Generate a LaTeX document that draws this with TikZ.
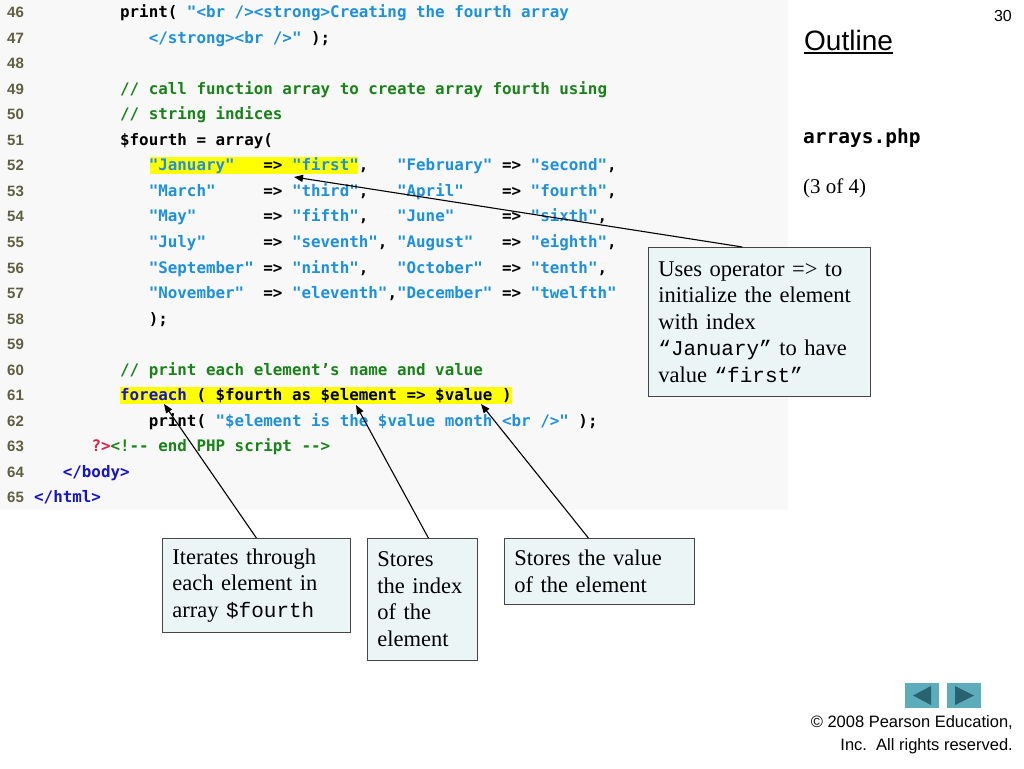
\documentclass[tikz,border=0pt]{standalone}
\usepackage{fontspec}
\setmainfont{Liberation Serif}
\newfontfamily\codefont{DejaVu Sans Mono}
\newfontfamily\courfont{Liberation Mono}
\newfontfamily\arialfont{Liberation Sans}
\usetikzlibrary{arrows.meta}

\definecolor{panelgray}{RGB}{248,248,248}
\definecolor{lnumgray}{RGB}{95,95,65}
\definecolor{strblue}{RGB}{30,144,220}
\definecolor{comgreen}{RGB}{25,130,25}
\definecolor{keyblue}{RGB}{20,20,200}
\definecolor{phpred}{RGB}{230,30,70}
\definecolor{hilite}{RGB}{255,255,0}
\definecolor{notefill}{RGB}{235,245,245}
\definecolor{noteline}{RGB}{70,70,70}
\definecolor{navteal}{RGB}{92,172,188}
\definecolor{navdark}{RGB}{40,100,112}

\newcommand\cstr[1]{\textcolor{strblue}{#1}}
\newcommand\ccom[1]{\textcolor{comgreen}{#1}}
\newcommand\ckey[1]{\textcolor{keyblue}{#1}}
\newcommand\ctext[1]{{\courfont\fontsize{21}{26.5}\selectfont #1}}
\newcommand\codeline[3]{\node[code] (c#1) at ({34+#2*9.55},{17.5+(#1-46)*25.55}) {#3};}

\begin{document}
\begin{tikzpicture}[
  x=1pt,
  y=-1pt,
  code/.style={
    anchor=base west,
    inner sep=0pt,
    font=\codefont\bfseries\fontsize{15.86}{19}\selectfont\frenchspacing
  },
  lnum/.style={
    anchor=base west,
    inner sep=0pt,
    lnumgray,
    font=\arialfont\bfseries\fontsize{15}{18}\selectfont
  },
  note/.style={
    draw=noteline,
    fill=notefill,
    line width=.8pt,
    anchor=north west,
    align=left,
    inner xsep=10pt,
    inner ysep=3pt,
    font=\fontsize{22.5}{26.5}\selectfont
  },
  pointer/.style={
    line width=1.1pt,
    -{Triangle[length=9pt,width=7pt]}
  },
]
\useasboundingbox (0,0) rectangle (1024,768);
\fill[white] (0,0) rectangle (1024,768);
\fill[panelgray] (0,0) rectangle (788,510);

% highlighted code
\fill[hilite] (150,157) rectangle (358,174);
\fill[hilite] (120,387) rectangle (512,404);

% line numbers
\foreach \n in {46,...,65}
  \node[lnum] (n\n) at (7,{17.5+(\n-46)*25.55}) {\n};

% code
\codeline{46}{9}{print( \cstr{"<br /><strong>Creating the fourth array}}
\codeline{47}{12}{\cstr{</strong><br />"} );}
\codeline{49}{9}{\ccom{// call function array to create array fourth using}}
\codeline{50}{9}{\ccom{// string indices}}
\codeline{51}{9}{\$fourth = array(}
\codeline{52}{12}{\cstr{"January"}~~~=> \cstr{"first"},~~~\cstr{"February"} => \cstr{"second"},}
\codeline{53}{12}{\cstr{"March"}~~~~~=> \cstr{"third"},~~~\cstr{"April"}~~~~=> \cstr{"fourth"},}
\codeline{54}{12}{\cstr{"May"}~~~~~~~=> \cstr{"fifth"},~~~\cstr{"June"}~~~~~=> \cstr{"sixth"},}
\codeline{55}{12}{\cstr{"July"}~~~~~~=> \cstr{"seventh"},~\cstr{"August"}~~~=> \cstr{"eighth"},}
\codeline{56}{12}{\cstr{"September"}~=> \cstr{"ninth"},~~~\cstr{"October"}~~=> \cstr{"tenth"},}
\codeline{57}{12}{\cstr{"November"}~~=> \cstr{"eleventh"},\cstr{"December"}~=> \cstr{"twelfth"}}
\codeline{58}{12}{);}
\codeline{60}{9}{\ccom{// print each element’s name and value}}
\codeline{61}{9}{\ckey{foreach} ( \$fourth as \$element => \$value )}
\codeline{62}{12}{print( \cstr{"\$element is the \$value month <br />"} );}
\codeline{63}{6}{\textcolor{phpred}{?>}\ccom{<!-{}- end PHP script -{}->}}
\codeline{64}{3}{\ckey{</body>}}
\codeline{65}{0}{\ckey{</html>}}

% side titles
\node[anchor=base east, inner sep=0pt, font=\arialfont\fontsize{16}{19}\selectfont] (page) at (1012,22) {30};
\node[anchor=base west, inner sep=0pt, font=\arialfont\fontsize{28}{32}\selectfont] (outl) at (804,50) {Outline};
\draw[line width=1.4pt] ([yshift=-3pt]outl.base west) -- ([yshift=-3pt]outl.base east);
\node[anchor=base west, inner sep=0pt, font=\codefont\bfseries\fontsize{19.5}{23}\selectfont] (file) at (803,143) {arrays.php};
\node[anchor=base west, inner sep=0pt, font=\fontsize{21}{25}\selectfont] (part) at (803,193) {(3 of 4)};

% callouts
\node[note, text width=202pt, minimum height=149pt] (opbox) at (648,247)
  {Uses operator => to\\initialize the element\\with index\\\ctext{“January”} to have\\value \ctext{“first”}};
\node[note, text width=168pt, minimum height=94pt] (iterbox) at (162,538)
  {Iterates through\\each element in\\array \ctext{\$fourth}};
\node[note, text width=90pt, minimum height=122pt] (indexbox) at (367,538)
  {Stores\\the index\\of the\\element};
\node[note, text width=170pt, minimum height=66pt] (valuebox) at (504,538)
  {Stores the value\\of the element};

\coordinate (tipfirst) at (294,177);
\coordinate (tipforeach) at (164,404);
\coordinate (tipelement) at (356,405);
\coordinate (tipvalue) at (481,404);

\draw[pointer] ([xshift=-17pt]opbox.north) -- (tipfirst);
\draw[pointer] (iterbox.north) -- (tipforeach);
\draw[pointer] ([xshift=6pt]indexbox.north) -- (tipelement);
\draw[pointer] ([xshift=-11pt]valuebox.north) -- (tipvalue);

% navigation buttons
\fill[navteal] (905,683) rectangle (939,708);
\fill[navteal] (947,683) rectangle (981,708);
\fill[navdark] (913,695.5) -- (931,686) -- (931,705) -- cycle;
\fill[navdark] (955,686) -- (974,695.5) -- (955,705) -- cycle;

% footer
\node[anchor=base east, inner sep=0pt, font=\arialfont\fontsize{16.5}{20}\selectfont] (copy1) at (1013,727) {© 2008 Pearson Education,};
\node[anchor=base east, inner sep=0pt, font=\arialfont\fontsize{16.5}{20}\selectfont] (copy2) at (1013,750) {Inc.\ \ All rights reserved.};
\end{tikzpicture}
\end{document}
